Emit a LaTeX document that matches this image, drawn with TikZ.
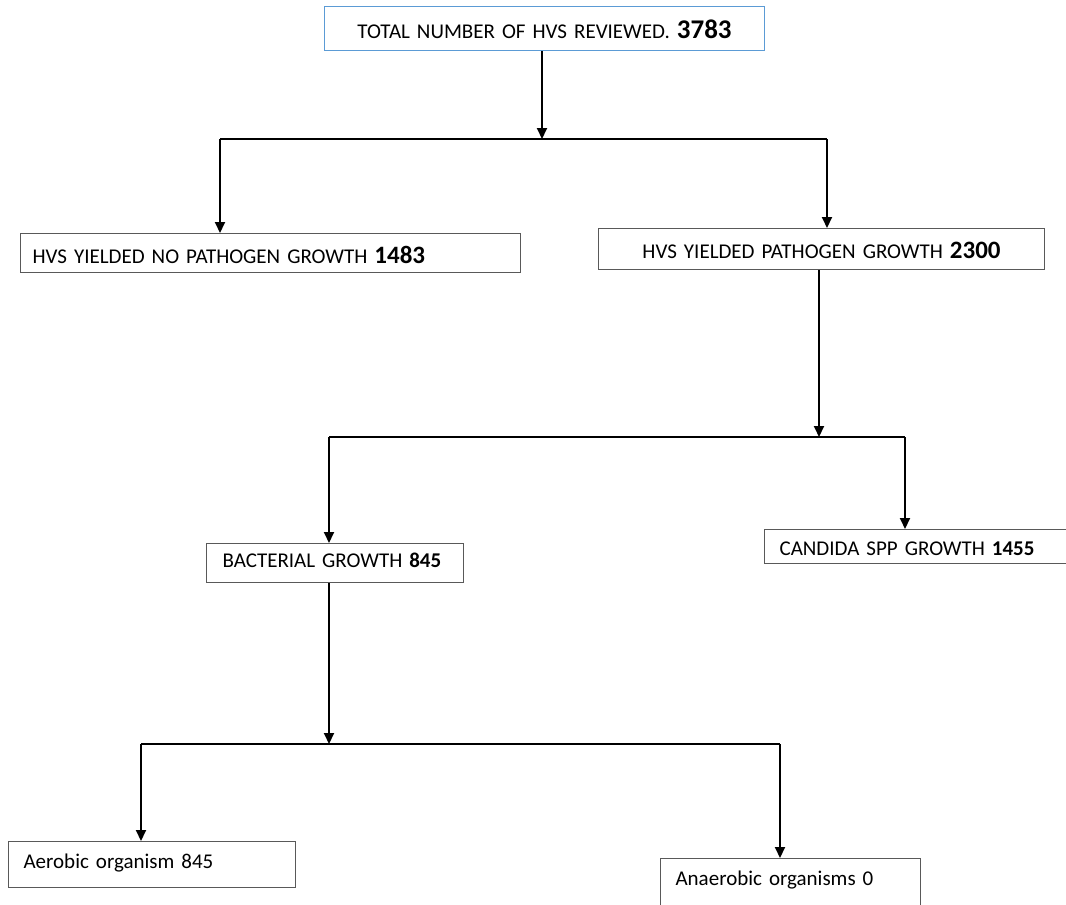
\documentclass[tikz,border=0pt]{standalone}
\usepackage{fontspec}
\setmainfont{Carlito}
\usetikzlibrary{arrows.meta}
\definecolor{boxgray}{HTML}{595959}
\definecolor{boxblue}{HTML}{5B9BD5}
\begin{document}
\begin{tikzpicture}[x=1pt,y=-1pt,
  box/.style={draw=boxgray, line width=1.1pt, anchor=north west, inner ysep=0pt,
    text depth=0pt, font=\fontsize{21}{23}\selectfont},
  cbox/.style={box, inner xsep=0pt, align=center},
  lbox/.style={box, inner xsep=#1, align=left},
  ln/.style={line width=2pt, black},
  arr/.style={ln, -{Triangle[width=10pt,length=11pt]}}
]
\newcommand{\bignum}[2][25]{{\fontsize{#1}{#1}\selectfont\bfseries #2}}
\clip (0,0) rectangle (1066,905);
\fill[white] (0,0) rectangle (1066,905);

\node[cbox, draw=boxblue, minimum width=440pt, minimum height=44pt, text width=440pt, text height=20pt]
  (top) at (324,6) {TOTAL NUMBER OF HVS REVIEWED. \bignum[27]{3783}};
\node[lbox=12pt, minimum width=500pt, minimum height=39pt, text width=476pt, text height=21.6pt]
  (nog) at (20,233) {HVS YIELDED NO PATHOGEN GROWTH \bignum{1483}};
\node[cbox, minimum width=446pt, minimum height=41pt, text width=446pt, text height=19.6pt]
  (pg) at (598,228) {HVS YIELDED PATHOGEN GROWTH \bignum{2300}};
\node[lbox=16pt, minimum width=257pt, minimum height=39pt, text width=225pt, text height=9.6pt]
  (bact) at (206,543) {BACTERIAL GROWTH \textbf{845}};
\node[lbox=15pt, minimum width=310pt, minimum height=34pt, text width=280pt, text height=18pt]
  (cand) at (764,529) {CANDIDA SPP GROWTH \textbf{1455}};
\node[lbox=15pt, minimum width=287pt, minimum height=46pt, text width=257pt, text height=8.6pt]
  (aer) at (8,841) {Aerobic organism 845};
\node[lbox=15pt, minimum width=260pt, minimum height=62pt, text width=230pt, text height=0pt, text depth=8pt]
  (anaer) at (660,858) {Anaerobic organisms 0};

\coordinate (j1) at (542,139);
\coordinate (j1l) at (220,139);
\coordinate (j1r) at (827,139);
\draw[arr] (top.south -| j1) -- (j1);
\draw[ln] (j1l) -- (j1r);
\draw[arr] (j1l) -- (j1l |- nog.north);
\draw[arr] (j1r) -- (j1r |- pg.north);

\coordinate (j2) at (819,437);
\coordinate (j2l) at (329,437);
\coordinate (j2r) at (905,437);
\draw[arr] (pg.south -| j2) -- (j2);
\draw[ln] (j2l) -- (j2r);
\draw[arr] (j2l) -- (j2l |- bact.north);
\draw[arr] (j2r) -- (j2r |- cand.north);

\coordinate (j3) at (329,744);
\coordinate (j3l) at (141,744);
\coordinate (j3r) at (780,744);
\draw[arr] (bact.south -| j3) -- (j3);
\draw[ln] (j3l) -- (j3r);
\draw[arr] (j3l) -- (j3l |- aer.north);
\draw[arr] (j3r) -- (j3r |- anaer.north);
\end{tikzpicture}
\end{document}
